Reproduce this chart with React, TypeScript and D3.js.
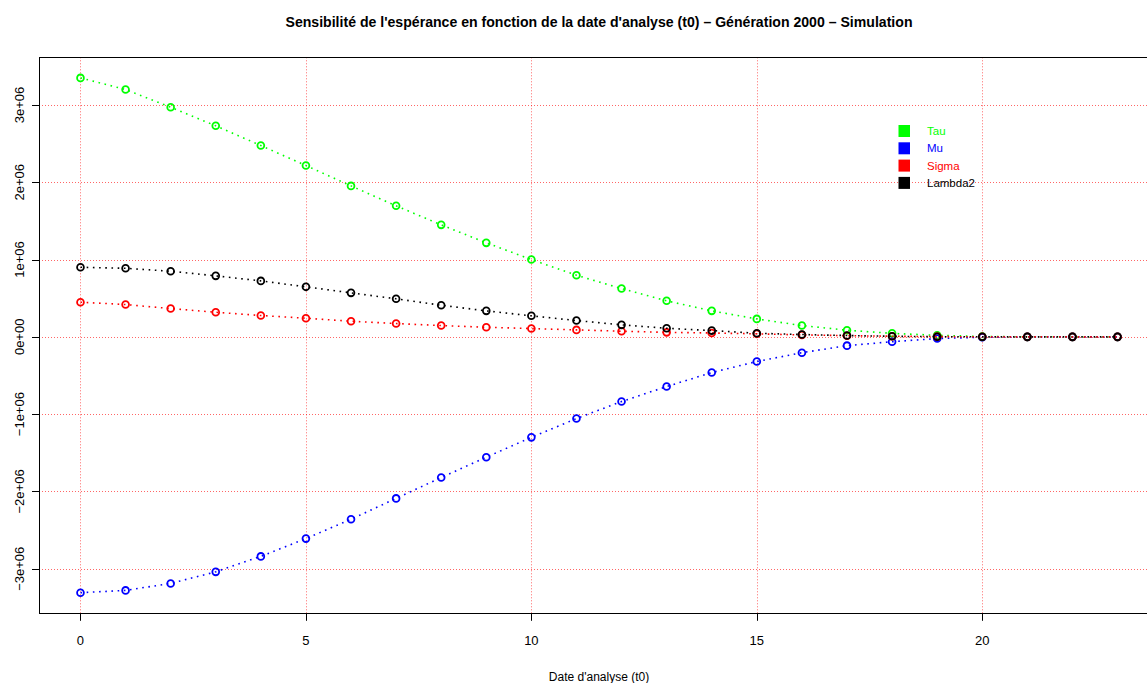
import React from "react";
import * as d3 from "d3";

const tValues = d3.range(0, 24);
const tauValues = [3.35e6, 3.2e6, 2.97e6, 2.73e6, 2.475e6, 2.216e6, 1.953e6, 1.695e6, 1.449e6, 1.216e6, 1.0e6, 0.797e6, 0.625e6, 0.466e6, 0.336e6, 0.232e6, 0.146e6, 0.086e6, 0.045e6, 0.02e6, 0.005e6, 0, 0, 0];
const muValues = [-3.31e6, -3.28e6, -3.19e6, -3.04e6, -2.84e6, -2.61e6, -2.36e6, -2.09e6, -1.82e6, -1.557e6, -1.3e6, -1.057e6, -0.837e6, -0.643e6, -0.462e6, -0.319e6, -0.205e6, -0.114e6, -0.063e6, -0.022e6, -0.005e6, 0, 0, 0];
const sigmaValues = [0.448e6, 0.418e6, 0.366e6, 0.318e6, 0.276e6, 0.241e6, 0.202e6, 0.172e6, 0.146e6, 0.124e6, 0.107e6, 0.09e6, 0.073e6, 0.058e6, 0.05e6, 0.039e6, 0.025e6, 0.015e6, 0.008e6, 0.003e6, 0.001e6, 0, 0, 0];
const lambdaValues = [0.9e6, 0.887e6, 0.849e6, 0.789e6, 0.724e6, 0.647e6, 0.569e6, 0.492e6, 0.409e6, 0.336e6, 0.272e6, 0.211e6, 0.155e6, 0.111e6, 0.081e6, 0.047e6, 0.03e6, 0.017e6, 0.007e6, 0.002e6, 0, 0, 0, 0];

const seriesNames = ["Tau", "Mu", "Sigma", "Lambda2"];
const seriesColors = ["#00ff00", "#0000ff", "#ff0000", "#000000"];
const xTicks = [0, 5, 10, 15, 20];
const yTicks = [-3e6, -2e6, -1e6, 0, 1e6, 2e6, 3e6];

const title = "Sensibilité de l'espérance en fonction de la date d'analyse (t0) – Génération 2000 – Simulation";
const xLabel = "Date d'analyse (t0)";

function fmtY(v: number): string {
  if (v === 0) return "0e+00";
  const m = Math.abs(v / 1e6);
  return (v < 0 ? "\u2212" : "") + m + "e+06";
}

export default function App() {
  const W = 1147, H = 683;
  const left = 39, right = 1159, top = 57.3, bottom = 613.3;
  const series = [tauValues, muValues, sigmaValues, lambdaValues];
  const all = series.flat();
  const [ymin, ymax] = d3.extent(all) as [number, number];
  const yp = (ymax - ymin) * 0.04;
  const xp = (23 - 0) * 0.04;
  const x = d3.scaleLinear().domain([0 - xp, 23 + xp]).range([left, right]);
  const y = d3.scaleLinear().domain([ymin - yp, ymax + yp]).range([bottom, top]);
  const line = d3.line<number>().x((_, i) => x(tValues[i])).y((d) => y(d));
  const font = "'Liberation Sans', Arial, sans-serif";

  return (
    <svg width={W} height={H} style={{ position: "fixed", left: 0, top: 0, background: "#fff" }} fontFamily={font}>
      <rect x={0} y={0} width={W} height={H} fill="#fff" />
      {/* grid */}
      <g stroke="#ff0000" strokeOpacity={0.6} strokeWidth={1} strokeDasharray="1 2">
        {xTicks.map((t) => (
          <line key={"gx" + t} x1={Math.round(x(t)) + 0.5} x2={Math.round(x(t)) + 0.5} y1={top} y2={bottom} />
        ))}
        {yTicks.map((t) => (
          <line key={"gy" + t} x1={left} x2={right} y1={Math.round(y(t)) + 0.5} y2={Math.round(y(t)) + 0.5} />
        ))}
      </g>
      {/* series */}
      {series.map((vals, si) => (
        <g key={"s" + si}>
          <path d={line(vals) || ""} fill="none" stroke={seriesColors[si]} strokeWidth={1.6} strokeDasharray="1.6 4.6" />
          {vals.map((v, i) => (
            <circle key={i} cx={x(tValues[i])} cy={y(v)} r={3.4} fill="none" stroke={seriesColors[si]} strokeWidth={1.8} />
          ))}
        </g>
      ))}
      {/* box */}
      <rect x={left + 0.5} y={Math.round(top) + 0.5} width={right - left} height={Math.round(bottom) - Math.round(top)} fill="none" stroke="#000" strokeWidth={1} />
      {/* x axis */}
      <g>
        <line x1={x(0)} x2={x(20)} y1={Math.round(bottom) + 0.5} y2={Math.round(bottom) + 0.5} stroke="#000" />
        {xTicks.map((t) => (
          <g key={"xt" + t}>
            <line x1={Math.round(x(t)) + 0.5} x2={Math.round(x(t)) + 0.5} y1={bottom} y2={bottom + 7.5} stroke="#000" />
            <text x={x(t)} y={645} textAnchor="middle" fontSize={13}>{t}</text>
          </g>
        ))}
      </g>
      {/* y axis */}
      <g>
        <line x1={left + 0.5} x2={left + 0.5} y1={y(-3e6)} y2={y(3e6)} stroke="#000" />
        {yTicks.map((t) => (
          <g key={"yt" + t}>
            <line x1={left - 7} x2={left} y1={Math.round(y(t)) + 0.5} y2={Math.round(y(t)) + 0.5} stroke="#000" />
            <text transform={`translate(24,${y(t)}) rotate(-90)`} textAnchor="middle" fontSize={13}>{fmtY(t)}</text>
          </g>
        ))}
      </g>
      {/* title */}
      <text x={(left + right) / 2} y={27} textAnchor="middle" fontSize={15} fontWeight="bold" textLength={627} lengthAdjust="spacingAndGlyphs">{title}</text>
      <text x={(left + right) / 2} y={681} textAnchor="middle" fontSize={12}>{xLabel}</text>
      {/* legend */}
      <g>
        {seriesNames.map((n, i) => (
          <g key={n}>
            <rect x={898.5} y={125 + i * 17.3} width={11.5} height={12} fill={seriesColors[i]} />
            <text x={927} y={135 + i * 17.3} fontSize={11.5} fill={seriesColors[i]}>{n}</text>
          </g>
        ))}
      </g>
    </svg>
  );
}
